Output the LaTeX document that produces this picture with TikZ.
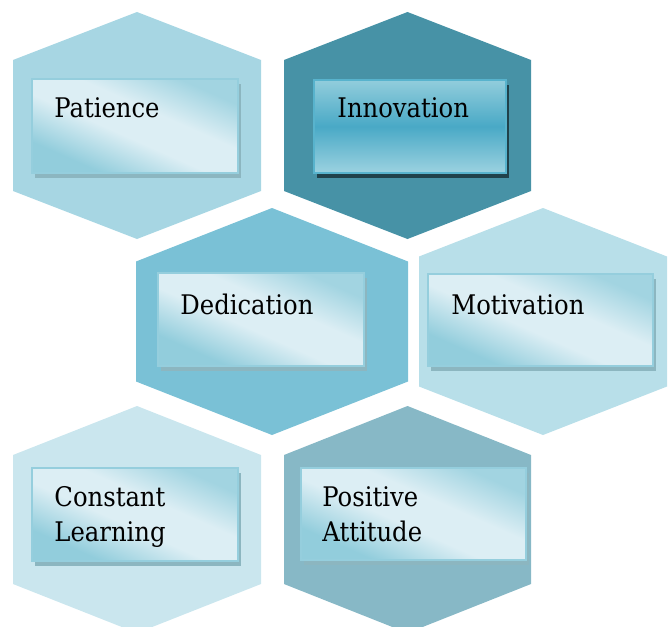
\documentclass[tikz,border=0pt]{standalone}
\usepackage{fontspec}
\setmainfont{DejaVu Serif Condensed}
\usetikzlibrary{positioning,shadows}

\definecolor{hexPat}{HTML}{A7D6E3}
\definecolor{hexInn}{HTML}{4792A6}
\definecolor{hexDed}{HTML}{7AC1D6}
\definecolor{hexMot}{HTML}{B8DFE9}
\definecolor{hexCon}{HTML}{CAE6EE}
\definecolor{hexPos}{HTML}{87B8C6}
\definecolor{glassdark}{HTML}{92CDDC}
\definecolor{glasslight}{HTML}{DCEEF4}
\definecolor{glasstop}{HTML}{A2D4E1}
\definecolor{glassedge}{HTML}{95CEDD}
\definecolor{innlow}{HTML}{9CD2E0}
\definecolor{innmid}{HTML}{49A9C6}
\definecolor{innhigh}{HTML}{92CDDC}
\definecolor{innedge}{HTML}{58B3CD}

\pgfdeclareverticalshading{glass}{100bp}{color(0bp)=(glassdark); color(28bp)=(glassdark); color(45bp)=(glasslight); color(58bp)=(glasslight); color(74bp)=(glasstop); color(100bp)=(glasstop)}
\pgfdeclareverticalshading{deepglass}{100bp}{color(0bp)=(innlow); color(25bp)=(innlow); color(50bp)=(innmid); color(75bp)=(innhigh); color(100bp)=(innhigh)}

\begin{document}
\begin{tikzpicture}[x=1pt,y=-1pt]
    \newcommand{\hexa}[5]{\fill[#1] ({#2-#4},{#3-#5}) -- (#2,{#3-113.5}) -- ({#2+#4},{#3-#5}) -- ({#2+#4},{#3+#5}) -- (#2,{#3+113.5}) -- ({#2-#4},{#3+#5}) -- cycle;}

    \tikzstyle{card}=[
      rectangle,
      draw=glassedge,
      line width=1.5pt,
      shading=glass,
      shading angle=-24,
      inner sep=0,
      drop shadow={shadow xshift=3pt,shadow yshift=-5pt,fill=glassdark!70!gray,opacity=1},
    ]
    \tikzstyle{deepcard}=[card,draw=innedge,shading=deepglass,shading angle=0,
      drop shadow={shadow xshift=3pt,shadow yshift=-5pt,fill=hexInn!45!black,opacity=1}]
    \tikzstyle{word}=[anchor=base west,inner sep=0,align=left,font=\fontsize{27}{35}\selectfont]

    \useasboundingbox (0,0) rectangle (668,626);
    \clip (0,0) rectangle (668,626);

    \hexa{hexPat}{137}{125.5}{124}{65.5}
    \hexa{hexInn}{407.5}{125.5}{123.5}{65.5}
    \hexa{hexDed}{272}{321.5}{136}{60}
    \hexa{hexMot}{543}{321.5}{124}{65}
    \hexa{hexCon}{137}{519.5}{124}{64.5}
    \hexa{hexPos}{407.5}{519.5}{123.5}{64.5}

    \node[card,minimum width=206pt,minimum height=94pt] (pat) at (135,126) {};
    \node[deepcard,minimum width=192pt,minimum height=93pt] (inn) at (410,126.5) {};
    \node[card,minimum width=206pt,minimum height=93pt] (ded) at (261,319.5) {};
    \node[card,minimum width=225pt,minimum height=92pt] (mot) at (540.5,320) {};
    \node[card,minimum width=206pt,minimum height=93pt] (con) at (135,514.5) {};
    \node[card,minimum width=225pt,minimum height=92pt] (pos) at (413.5,514) {};

    \node[word] (patText) at ([xshift=23pt,yshift=-39pt]pat.north west) {Patience};
    \node[word] (innText) at ([xshift=24pt,yshift=-38pt]inn.north west) {Innovation};
    \node[word] (dedText) at ([xshift=23pt,yshift=-42pt]ded.north west) {Dedication};
    \node[word] (motText) at ([xshift=24pt,yshift=-41pt]mot.north west) {Motivation};
    \node[word] (conText) at ([xshift=23pt,yshift=-74pt]con.north west) {Constant\\Learning};
    \node[word] (posText) at ([xshift=22pt,yshift=-74pt]pos.north west) {Positive\\Attitude};
  \end{tikzpicture}
\end{document}
